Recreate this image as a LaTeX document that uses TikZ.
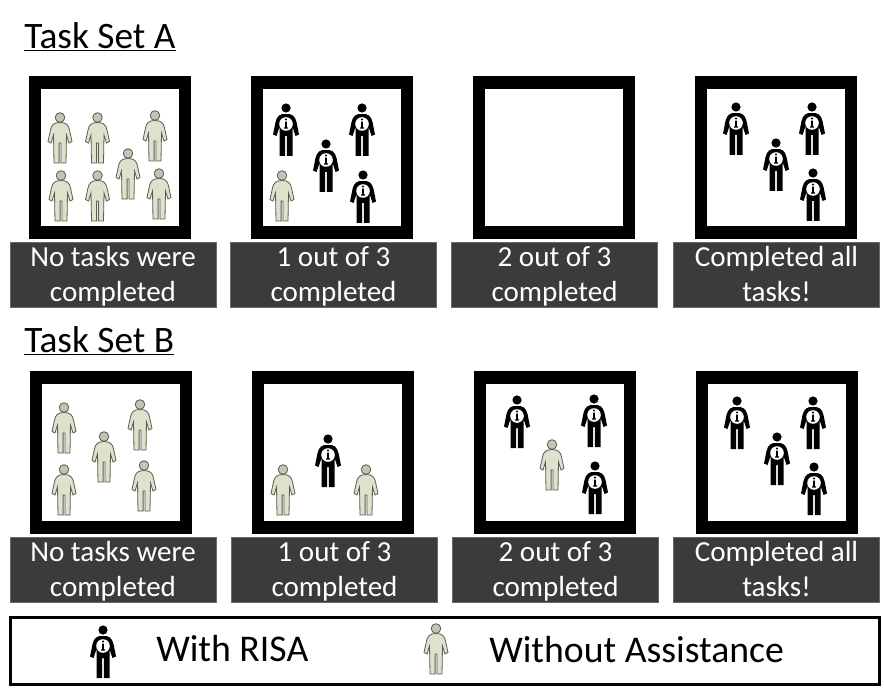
\documentclass[tikz,border=0pt]{standalone}
\usepackage{fontspec}
\setmainfont{Carlito}
\usepackage{tikz}
\usetikzlibrary{calc, positioning}
\definecolor{captiongray}{RGB}{59,59,59}
\definecolor{captionedge}{RGB}{105,105,105}
\definecolor{plainfill}{RGB}{222,226,204}
\definecolor{plainedge}{RGB}{90,92,80}
\newcommand{\capstrut}{\rule[-4.5pt]{0pt}{22.5pt}}
\tikzset{
	panel/.style={draw=black,fill=white,line width=9.4pt,minimum size=112.2pt,inner sep=0pt,outer sep=0pt},
	caption/.style={draw=captionedge,line width=0.75pt,fill=captiongray,text=white,minimum width=154.5pt,minimum height=49pt,inner sep=0pt,align=center,font=\fontsize{21.8}{26.3}\selectfont},
	heading/.style={anchor=west,inner sep=0pt,font=\fontsize{28}{32}\selectfont},
	legendtext/.style={anchor=west,inner sep=0pt,font=\fontsize{28.3}{32}\selectfont},
	pics/riskperson/.style={code={
		% head
		\fill (0,-22) circle [radius=4.6];
		% arch, arms and legs
		\fill (0,-16) .. controls (6,-16.5) and (9,-14) .. (10.5,-8) -- (13,4.5) -- (9.5,6) -- (6.5,-3) -- (6.5,26) -- (0.8,26) -- (0.8,6) -- (-0.8,6) -- (-0.8,26) -- (-6.5,26) -- (-6.5,-3) -- (-9.5,6) -- (-13,4.5) -- (-10.5,-8) .. controls (-9,-14) and (-6,-16.5) .. (0,-16) -- cycle;
		\fill [white] (0,-6) circle [radius=6.8];
		\fill (-0.9,-8.4) rectangle (0.9,-2) (-2,-2.6) rectangle (2,-1.4);
		\fill (0,-10.5) circle [radius=1.1];
	}},
	pics/plainperson/.style={code={
		% body outline
		\draw [draw=plainedge,fill=plainfill,line width=0.6pt] (0,-15.5) .. controls (6,-15.5) and (8.5,-13) .. (9.5,-8) -- (12,3.5) -- (9,5) -- (6.5,-3) -- (6,25) -- (0.9,25) -- (0.9,5) -- (-0.9,5) -- (-0.9,25) -- (-6,25) -- (-6.5,-3) -- (-9,5) -- (-12,3.5) -- (-9.5,-8) .. controls (-8.5,-13) and (-6,-15.5) .. (0,-15.5) -- cycle;
		% head
		\draw [draw=plainedge,fill=plainfill!70!gray,line width=0.6pt] (0,-20.5) circle [radius=4.8];
	}},
	person/.style={yscale=-1},
}
\begin{document}
\begin{tikzpicture}[x=0.75pt,y=0.75pt,yscale=-1,xscale=1]
	\useasboundingbox (0,0) rectangle (884,695);

	% Headings
	\node [heading] (headA) at (24,37) {\underline{Task Set A}};
	\node [heading] (headB) at (24,341) {\underline{Task Set B}};

	% Panels of set A
	\node [panel] (panelA1) at (110,157.5) {};
	\node [panel] (panelA2) at (332,157.5) {};
	\node [panel] (panelA3) at (554,157.5) {};
	\node [panel] (panelA4) at (776,157.5) {};
	% Panels of set B
	\node [panel] (panelB1) at (111,452.5) {};
	\node [panel] (panelB2) at (333,452.5) {};
	\node [panel] (panelB3) at (555,452.5) {};
	\node [panel] (panelB4) at (777,452.5) {};

	% Captions of set A
	\node [caption] (capA1) at (113,275) {\capstrut No tasks were\\\capstrut completed};
	\node [caption] (capA2) at (333.5,275) {\capstrut 1 out of 3\\\capstrut completed};
	\node [caption] (capA3) at (554.5,275) {\capstrut 2 out of 3\\\capstrut completed};
	\node [caption] (capA4) at (776.5,275) {\capstrut Completed all\\\capstrut tasks!};
	% Captions of set B
	\node [caption] (capB1) at (113,570) {\capstrut No tasks were\\\capstrut completed};
	\node [caption] (capB2) at (334.5,570) {\capstrut 1 out of 3\\\capstrut completed};
	\node [caption] (capB3) at (555.5,570) {\capstrut 2 out of 3\\\capstrut completed};
	\node [caption] (capB4) at (776.5,570) {\capstrut Completed all\\\capstrut tasks!};

	% People, set A
	\foreach \px/\py in {60/138,97.5/138,155/136,128/174,61/196,97.5/196,159/194,282/196}
		\pic [person] at (\px,\py) {plainperson};
	\foreach \px/\py in {286/130,362/130,326/166,363/197,736/129,812/129,776/165,813/195}
		\pic [person] at (\px,\py) {riskperson};
	% People, set B
	\foreach \px/\py in {64/428,140/425,104/457,64/490,144/486,283/490,366/490,552/465}
		\pic [person] at (\px,\py) {plainperson};
	\foreach \px/\py in {328/461,517/422,594/421,595/488,737/423,813/423,777/459,814/489}
		\pic [person] at (\px,\py) {riskperson};

	% Legend
	\node [draw=black,line width=1.9pt,minimum width=652pt,minimum height=50.5pt,inner sep=0pt] (legend) at (445,651) {};
	\pic [person] at (103,652) {riskperson};
	\pic [person] at (436,649) {plainperson};
	\node [legendtext] (legendA) at (156,649) {With RISA};
	\node [legendtext] (legendB) at (489,650) {Without Assistance};
\end{tikzpicture}
\end{document}
